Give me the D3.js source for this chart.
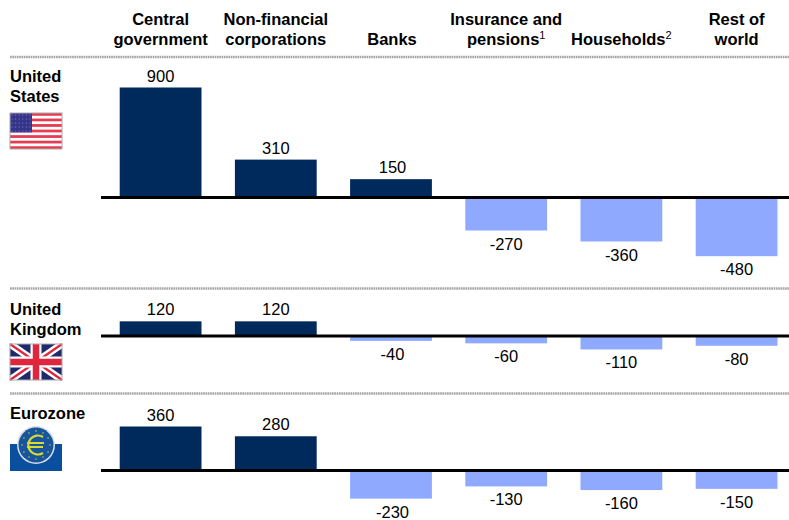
<!DOCTYPE html>
<html>
<head>
<meta charset="utf-8">
<script src="https://cdn.jsdelivr.net/npm/d3@7"></script>
<style>
	html, body { margin: 0; padding: 0; background: #fff; }
	svg { display: block; }
	text { font-family: "Liberation Sans", Arial, sans-serif; fill: #000; }
</style>
</head>
<body>
<script>
// values
var sectors = ["Central government", "Non-financial corporations", "Banks", "Insurance and pensions", "Households", "Rest of world"];
var headerLines = [["Central", "government"], ["Non-financial", "corporations"], ["Banks"], ["Insurance and", "pensions"], ["Households"], ["Rest of", "world"]];
var headerNotes = ["", "", "", "1", "2", ""];

var regionNames = ["United States", "United Kingdom", "Eurozone"];
var regionLines = [["United", "States"], ["United", "Kingdom"], ["Eurozone"]];
var unitedStates = [900, 310, 150, -270, -360, -480];
var unitedKingdom = [120, 120, -40, -60, -110, -80];
var eurozone = [360, 280, -230, -130, -160, -150];
var regionValues = [unitedStates, unitedKingdom, eurozone];

var width = 789, height = 520;
var baselines = [197.5, 336, 470.5];
var rules = [57, 288.5, 393.5];
var labelTops = [76, 309, 413];
var flagTops = [113, 344, 427];

var navy = "#002a5c", lightBlue = "#8fa9ff";

var svg = d3.select("body").append("svg")
	.attr("width", width)
	.attr("height", height);

var x = d3.scaleBand()
	.domain(sectors)
	.range([103, 794.2])
	.paddingInner(0.29)
	.paddingOuter(0.145);

// pixels per unit, same for all three panels
var barLength = d3.scaleLinear().domain([0, 900]).range([0, 110]);

// header
headerLines.forEach(function(lines, i){
	var cx = x(sectors[i]) + x.bandwidth() / 2 + (i == 2 ? 1 : 0);
	var bottom = 45;
	lines.forEach(function(line, j){
		var t = svg.append("text")
			.attr("x", cx)
			.attr("y", bottom - (lines.length - 1 - j) * 20)
			.attr("text-anchor", "middle")
			.attr("font-size", 16.5)
			.attr("font-weight", "bold")
			.text(line);
		if(j == lines.length - 1 && headerNotes[i]){
			t.append("tspan")
				.attr("dy", -6)
				.attr("font-size", 11)
				.attr("font-weight", "normal")
				.text(headerNotes[i]);
		}
	});
});

// dotted rules
rules.forEach(function(y){
	svg.append("line")
		.attr("x1", 10)
		.attr("x2", width)
		.attr("y1", y)
		.attr("y2", y)
		.attr("stroke", "#a6a6a6")
		.attr("stroke-width", 2.5)
		.attr("stroke-dasharray", "1.7 0.6");
});

// panels
regionValues.forEach(function(values, r){
	var base = baselines[r];
	var g = svg.append("g");

	g.selectAll("rect")
		.data(values)
		.enter()
		.append("rect")
		.attr("x", function(d, i){ return x(sectors[i]); })
		.attr("y", function(d){ return d > 0 ? base - barLength(d) : base; })
		.attr("width", x.bandwidth())
		.attr("height", function(d){ return barLength(Math.abs(d)); })
		.attr("fill", function(d){ return d > 0 ? navy : lightBlue; });

	g.selectAll("text")
		.data(values)
		.enter()
		.append("text")
		.attr("x", function(d, i){ return x(sectors[i]) + x.bandwidth() / 2 + (i == 2 ? 1.5 : 0); })
		.attr("y", function(d){ return d > 0 ? base - barLength(d) - 6 : base + barLength(-d) + 19; })
		.attr("text-anchor", "middle")
		.attr("font-size", 16.5)
		.text(function(d){ return d; });

	g.append("line")
		.attr("x1", 101)
		.attr("x2", width)
		.attr("y1", base)
		.attr("y2", base)
		.attr("stroke", "#000")
		.attr("stroke-width", 3);

	regionLines[r].forEach(function(line, j){
		svg.append("text")
			.attr("x", 10)
			.attr("y", labelTops[r] + 6 + j * 20)
			.attr("font-size", 16.5)
			.attr("font-weight", "bold")
			.text(line);
	});
});

// flags are just small pictures, drawn in a local 52 wide box
var usFlag = function(g){
	var h = 36, stripe = h / 13;
	g.append("rect").attr("width", 52).attr("height", h).attr("fill", "#fff");
	d3.range(0, 13, 2).forEach(function(i){
		g.append("rect").attr("y", i * stripe).attr("width", 52).attr("height", stripe).attr("fill", "#e63c52");
	});
	g.append("rect").attr("width", 22).attr("height", stripe * 7).attr("fill", "#35358c");
	d3.range(0, 5).forEach(function(row){
		d3.range(0, 6).forEach(function(col){
			g.append("circle")
				.attr("cx", 2 + col * 3.6)
				.attr("cy", 2 + row * 4)
				.attr("r", 0.55)
				.attr("fill", "#8f8fc4");
		});
	});
	g.append("rect").attr("width", 52).attr("height", h).attr("fill", "none").attr("stroke", "#aaa");
};

var ukFlag = function(g){
	var h = 36;
	g.append("rect").attr("width", 52).attr("height", h).attr("fill", "#1f2a6d");
	g.append("path").attr("d", "M0,0L52,36M52,0L0,36").attr("stroke", "#fff").attr("stroke-width", 7);
	g.append("path").attr("d", "M0,0L52,36M52,0L0,36").attr("stroke", "#e0263f").attr("stroke-width", 2.2);
	g.append("path").attr("d", "M26,0V36M0,18H52").attr("stroke", "#fff").attr("stroke-width", 11);
	g.append("path").attr("d", "M26,0V36M0,18H52").attr("stroke", "#e0263f").attr("stroke-width", 6.5);
	g.append("rect").attr("width", 52).attr("height", h).attr("fill", "none").attr("stroke", "#aaa");
};

var ecbLogo = function(g){
	g.append("rect").attr("y", 17).attr("width", 52).attr("height", 27).attr("fill", "#0a4f9e");
	g.append("circle").attr("cx", 26).attr("cy", 18).attr("r", 19).attr("fill", "#d8dfe8");
	g.append("circle").attr("cx", 26).attr("cy", 18).attr("r", 17.5).attr("fill", "#17569f");
	d3.range(0, 12).forEach(function(i){
		var a = i * Math.PI / 6;
		g.append("circle")
			.attr("cx", 26 + 14 * Math.cos(a))
			.attr("cy", 18 + 14 * Math.sin(a))
			.attr("r", 1)
			.attr("fill", "#7f9a5a");
	});
	g.append("path")
		.attr("d", "M33,10A9.5,9.5,0,1,0,33,26")
		.attr("fill", "none")
		.attr("stroke", "#d9d92e")
		.attr("stroke-width", 2.2);
	g.append("path")
		.attr("d", "M17,16H34M17,20H33")
		.attr("stroke", "#d9d92e")
		.attr("stroke-width", 1.8);
};

[usFlag, ukFlag, ecbLogo].forEach(function(draw, i){
	draw(svg.append("g").attr("transform", "translate(10," + flagTops[i] + ")"));
});
</script>
</body>
</html>
